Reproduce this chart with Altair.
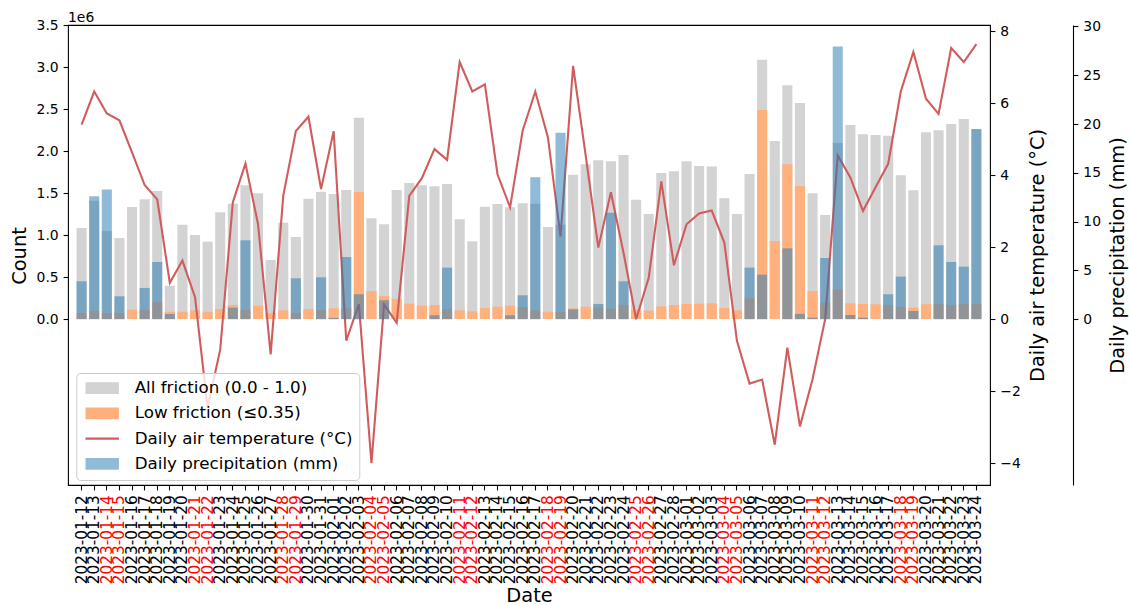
import altair as alt
import pandas as pd

# ---------------- data ----------------
dates = [d.strftime("%Y-%m-%d") for d in pd.date_range("2023-01-12", "2023-03-24", freq="D")]

all_friction_m = [
    1.083, 1.409, 1.048, 0.964, 1.333, 1.425, 1.524, 0.397, 1.123, 1.000,
    0.921, 1.270, 1.373, 1.591, 1.496, 0.702, 1.147, 0.976, 1.433, 1.512,
    1.488, 1.536, 2.397, 1.198, 1.127, 1.536, 1.619, 1.591, 1.579, 1.607,
    1.187, 0.925, 1.337, 1.369, 1.329, 1.377, 1.373, 1.095, 1.123, 1.718,
    1.841, 1.889, 1.877, 1.952, 1.421, 1.250, 1.738, 1.758, 1.877, 1.821,
    1.817, 1.437, 1.250, 1.726, 3.087, 2.119, 2.782, 2.571, 1.496, 1.238,
    2.095, 2.310, 2.198, 2.190, 2.183, 1.710, 1.532, 2.222, 2.246, 2.321,
    2.381, 2.260,
]
low_friction_m = [
    0.071, 0.095, 0.071, 0.071, 0.111, 0.111, 0.202, 0.087, 0.087, 0.103,
    0.087, 0.119, 0.167, 0.111, 0.159, 0.071, 0.103, 0.071, 0.119, 0.111,
    0.127, 0.127, 1.512, 0.333, 0.274, 0.238, 0.183, 0.159, 0.167, 0.119,
    0.103, 0.091, 0.131, 0.147, 0.159, 0.143, 0.103, 0.087, 0.083, 0.127,
    0.147, 0.135, 0.123, 0.167, 0.111, 0.099, 0.151, 0.167, 0.179, 0.183,
    0.187, 0.131, 0.103, 0.246, 2.488, 0.929, 1.841, 1.583, 0.333, 0.194,
    0.353, 0.187, 0.179, 0.175, 0.167, 0.147, 0.135, 0.175, 0.179, 0.167,
    0.179, 0.175,
]
temperature_c = [
    5.41, 6.33, 5.72, 5.53, 4.64, 3.73, 3.33, 1.01, 1.63, 0.61,
    -2.46, -0.84, 3.25, 4.33, 2.64, -0.98, 3.43, 5.23, 5.63, 3.62,
    5.23, -0.60, 0.42, -4.00, 0.41, -0.10, 3.43, 3.92, 4.73, 4.43,
    7.15, 6.33, 6.53, 4.03, 3.11, 5.25, 6.33, 5.06, 2.30, 7.04,
    4.55, 1.99, 3.53, 1.85, 0.00, 1.15, 3.83, 1.50, 2.64, 2.94,
    3.02, 2.13, -0.60, -1.79, -1.68, -3.49, -0.79, -2.98, -1.67, 0.00,
    4.55, 3.94, 3.01, 3.67, 4.32, 6.33, 7.43, 6.13, 5.71, 7.54,
    7.15, 7.65,
]
precip_mm = [
    3.89, 12.6, 13.3, 2.35, 0.0, 3.21, 5.87, 0.55, 0.0, 0.0,
    0.0, 0.0, 1.19, 8.09, 0.0, 0.0, 0.0, 4.20, 0.0, 4.30,
    0.14, 6.38, 2.56, 0.0, 1.95, 0.0, 0.0, 0.0, 0.41, 5.29,
    0.0, 0.0, 0.0, 0.0, 0.41, 2.46, 14.54, 0.0, 19.1, 1.02,
    0.0, 1.57, 10.92, 3.89, 0.0, 0.0, 0.0, 0.0, 0.0, 0.0,
    0.0, 0.0, 0.0, 5.29, 4.57, 0.0, 7.27, 0.55, 0.17, 6.28,
    27.95, 0.44, 0.17, 0.0, 2.56, 4.37, 0.85, 0.0, 7.58, 5.87,
    5.39, 19.5,
]

count_ticks = [0, 500000, 1000000, 1500000, 2000000, 2500000, 3000000, 3500000]
temp_ticks = [-4, -2, 0, 2, 4, 6, 8]
precip_ticks = [0, 5, 10, 15, 20, 25, 30]
offset_text = ["1e6"]

L_ALL = "All friction (0.0 - 1.0)"
L_LOW = "Low friction (\u22640.35)"
L_TEMP = "Daily air temperature (\u00b0C)"
L_PRE = "Daily precipitation (mm)"

df = pd.DataFrame({
    "date": dates,
    "all": [v * 1e6 for v in all_friction_m],
    "low": [v * 1e6 for v in low_friction_m],
    "temp": temperature_c,
    "precip": precip_mm,
})

weekend = [d for d in dates if pd.Timestamp(d).dayofweek >= 5]
weekend_test = "indexof([" + ",".join("'%s'" % d for d in weekend) + "], datum.value) >= 0"

FONT = "DejaVu Sans"
W, H = 922, 460

x_enc = alt.X(
    "date:N", sort=None, title="Date",
    scale=alt.Scale(paddingInner=0.2, paddingOuter=0.68),
    axis=alt.Axis(
        labelAngle=-90, labelOverlap=False, labelFontSize=15.3, labelPadding=4.9,
        labelColor={"condition": {"test": weekend_test, "value": "red"}, "value": "black"},
        tickSize=4.9, domain=False,
        titleFontSize=19.4, titleX=W / 2, titleY=116, titleAlign="center",
        titleBaseline="alphabetic", titleAngle=0,
    ),
)

RECT_PATH = "M-1,-1H4.71V1H-1Z"
LINE_PATH = "M-1,-0.18H4.71V0.18H-1Z"

legend = alt.Legend(
    title=None, orient="none", legendX=8.3, legendY=348,
    labelFontSize=16.7, labelFont=FONT, labelColor="black", labelLimit=400,
    symbolSize=137,
    symbolType={"expr": "datum.value === '%s' ? '%s' : '%s'" % (L_TEMP, LINE_PATH, RECT_PATH)},
    symbolOpacity={"expr": "datum.value === '%s' ? 0.5 : 1" % L_PRE},
    symbolStrokeWidth=0, symbolStrokeColor="transparent",
    labelOffset=35, padding=6.7, rowPadding=7.3,
    fillColor="rgba(255,255,255,0.8)", strokeColor="#cccccc", cornerRadius=4,
)

color_scale = alt.Scale(
    domain=[L_ALL, L_LOW, L_TEMP, L_PRE],
    range=["#d3d3d3", "#ffb07c", "#d05d5d", "#1f77b4"],
)
color_enc = alt.Color("series:N", scale=color_scale, legend=legend)

count_scale = alt.Scale(domain=[-1976000, 3500000], nice=False, zero=False)

base = alt.Chart(df)

grey = base.mark_bar().transform_calculate(series="'%s'" % L_ALL).encode(
    x=x_enc,
    y=alt.Y("all:Q", stack=None, scale=count_scale, title="Count",
            axis=alt.Axis(orient="left", values=count_ticks,
                          labelExpr="format(datum.value / 1e6, '.1f')",
                          labelFontSize=13.9, labelPadding=4.9, tickSize=4.9, domain=False,
                          titleFontSize=19.4, titleX=-42.5, titleY=230.5, titleAngle=270,
                          titleAlign="center", titleBaseline="alphabetic")),
    color=color_enc,
)

orange = base.mark_bar().transform_calculate(series="'%s'" % L_LOW).encode(
    x=x_enc,
    y=alt.Y("low:Q", stack=None, scale=count_scale, axis=None),
    color=color_enc,
)

line = base.mark_line(strokeWidth=2.1).transform_calculate(series="'%s'" % L_TEMP).encode(
    x=x_enc,
    y=alt.Y("temp:Q", scale=alt.Scale(domain=[-4.61, 8.18], nice=False, zero=False),
            title=L_TEMP,
            axis=alt.Axis(orient="right", values=temp_ticks, format="d",
                          labelFontSize=13.9, labelPadding=4.9, tickSize=4.9, domain=False,
                          titleFontSize=19.4, titleX=53, titleY=230, titleAngle=270,
                          titleAlign="center", titleBaseline="alphabetic")),
    color=color_enc,
)

blue = base.mark_bar(opacity=0.5).transform_calculate(series="'%s'" % L_PRE).encode(
    x=x_enc,
    y=alt.Y("precip:Q", stack=None,
            scale=alt.Scale(domain=[-16.98, 30.15], nice=False, zero=False),
            title=L_PRE,
            axis=alt.Axis(orient="right", offset=83, values=precip_ticks, format="d",
                          labelFontSize=13.9, labelPadding=4.9, tickSize=4.9, domain=True,
                          titleFontSize=19.4, titleX=50, titleY=230, titleAngle=270,
                          titleAlign="center", titleBaseline="alphabetic")),
    color=color_enc,
)

# scientific offset label of the count axis (placed like matplotlib's offset text)
offset_label = alt.Chart(pd.DataFrame({"t": offset_text})).mark_text(
    align="left", baseline="alphabetic", font=FONT, fontSize=13.9, color="black"
).encode(x=alt.value(0), y=alt.value(-3.3), text="t:N")

chart = alt.layer(grey, orange, line, blue, offset_label).resolve_scale(
    y="independent"
).properties(
    width=W, height=H,
    autosize=alt.AutoSizeParams(type="none"),
    padding={"left": 68, "top": 25, "right": 139, "bottom": 120},
    background="white",
).configure_view(
    stroke="black", strokeWidth=1.1
).configure_axis(
    labelFont=FONT, titleFont=FONT, labelColor="black", titleColor="black",
    tickColor="black", domainColor="black", tickWidth=1.1, domainWidth=1.1,
    grid=False, titleFontWeight="normal",
).configure_legend(
    labelFont=FONT,
)

chart.save("out.html", embed_options={"renderer": "svg", "actions": False})
